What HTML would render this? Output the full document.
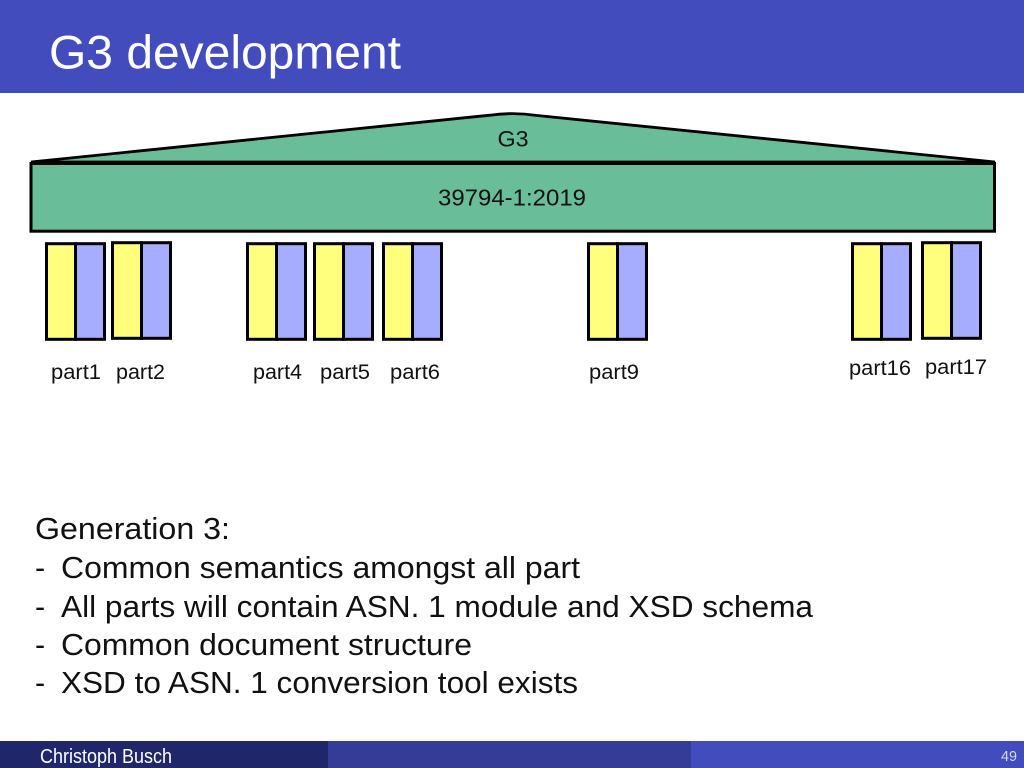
<!DOCTYPE html>
<html>
<head>
<meta charset="utf-8">
<style>
html,body{margin:0;padding:0;width:1024px;height:768px;overflow:hidden;background:#fff}
svg{display:block}
text{font-family:"Liberation Sans",sans-serif}
</style>
</head>
<body>
<svg width="1024" height="768" viewBox="0 0 1024 768" xmlns="http://www.w3.org/2000/svg">
<rect x="0" y="0" width="1024" height="93" fill="#434cbd"/>
<text x="49" y="68.500" font-size="47" fill="#fff" textLength="352" lengthAdjust="spacingAndGlyphs">G3 development</text>

<path d="M31 162 L490 115.200 Q513 112 536 115.400 L995 162 Z" fill="#69bd98" stroke="#000" stroke-width="2.800" stroke-linejoin="bevel"/>
<rect x="31" y="163.500" width="963.500" height="67.700" fill="#69bd98" stroke="#000" stroke-width="3"/>
<text x="497.500" y="146.500" font-size="22.500" fill="#111" textLength="31" lengthAdjust="spacingAndGlyphs">G3</text>
<text x="438" y="205.500" font-size="23" fill="#111" textLength="148" lengthAdjust="spacingAndGlyphs">39794-1:2019</text>

<g stroke="#000" stroke-width="3">
<g transform="translate(46.500,243.700)"><rect width="29" height="95.600" fill="#ffff7d"/><rect x="29" width="29" height="95.600" fill="#a6adff"/></g>
<g transform="translate(112.500,242.700)"><rect width="29" height="95.600" fill="#ffff7d"/><rect x="29" width="29" height="95.600" fill="#a6adff"/></g>
<g transform="translate(247.500,243.700)"><rect width="29" height="95.600" fill="#ffff7d"/><rect x="29" width="29" height="95.600" fill="#a6adff"/></g>
<g transform="translate(314.500,243.700)"><rect width="29" height="95.600" fill="#ffff7d"/><rect x="29" width="29" height="95.600" fill="#a6adff"/></g>
<g transform="translate(383.500,243.700)"><rect width="29" height="95.600" fill="#ffff7d"/><rect x="29" width="29" height="95.600" fill="#a6adff"/></g>
<g transform="translate(588.500,243.700)"><rect width="29" height="95.600" fill="#ffff7d"/><rect x="29" width="29" height="95.600" fill="#a6adff"/></g>
<g transform="translate(852.500,243.700)"><rect width="29" height="95.600" fill="#ffff7d"/><rect x="29" width="29" height="95.600" fill="#a6adff"/></g>
<g transform="translate(922.500,242.700)"><rect width="29" height="95.600" fill="#ffff7d"/><rect x="29" width="29" height="95.600" fill="#a6adff"/></g>
</g>

<g font-size="21" fill="#111">
<text x="51" y="379" textLength="50" lengthAdjust="spacingAndGlyphs">part1</text>
<text x="116" y="379" textLength="49" lengthAdjust="spacingAndGlyphs">part2</text>
<text x="253" y="379" textLength="49" lengthAdjust="spacingAndGlyphs">part4</text>
<text x="320" y="379" textLength="50" lengthAdjust="spacingAndGlyphs">part5</text>
<text x="390" y="379" textLength="50" lengthAdjust="spacingAndGlyphs">part6</text>
<text x="589" y="379" textLength="50" lengthAdjust="spacingAndGlyphs">part9</text>
<text x="849" y="375" textLength="62" lengthAdjust="spacingAndGlyphs">part16</text>
<text x="925" y="374" textLength="62" lengthAdjust="spacingAndGlyphs">part17</text>
</g>

<g font-size="30.500" fill="#111">
<text x="35" y="539" textLength="195" lengthAdjust="spacingAndGlyphs">Generation 3:</text>
<text x="35" y="578">-</text><text x="61" y="578" textLength="519" lengthAdjust="spacingAndGlyphs">Common semantics amongst all part</text>
<text x="35" y="617">-</text><text x="61" y="617" textLength="752" lengthAdjust="spacingAndGlyphs">All parts will contain ASN. 1 module and XSD schema</text>
<text x="35" y="655">-</text><text x="61" y="655" textLength="411" lengthAdjust="spacingAndGlyphs">Common document structure</text>
<text x="35" y="693">-</text><text x="61" y="693" textLength="517" lengthAdjust="spacingAndGlyphs">XSD to ASN. 1 conversion tool exists</text>
</g>

<rect x="0" y="741" width="328" height="27" fill="#1f2669"/>
<rect x="328" y="741" width="363" height="27" fill="#353c98"/>
<rect x="691" y="741" width="333" height="27" fill="#434cbd"/>
<text x="40" y="763" font-size="20" fill="#fff" textLength="132" lengthAdjust="spacingAndGlyphs">Christoph Busch</text>
<text x="1001" y="761" font-size="15" fill="#d8daf0" textLength="16" lengthAdjust="spacingAndGlyphs">49</text>
</svg>
</body>
</html>
